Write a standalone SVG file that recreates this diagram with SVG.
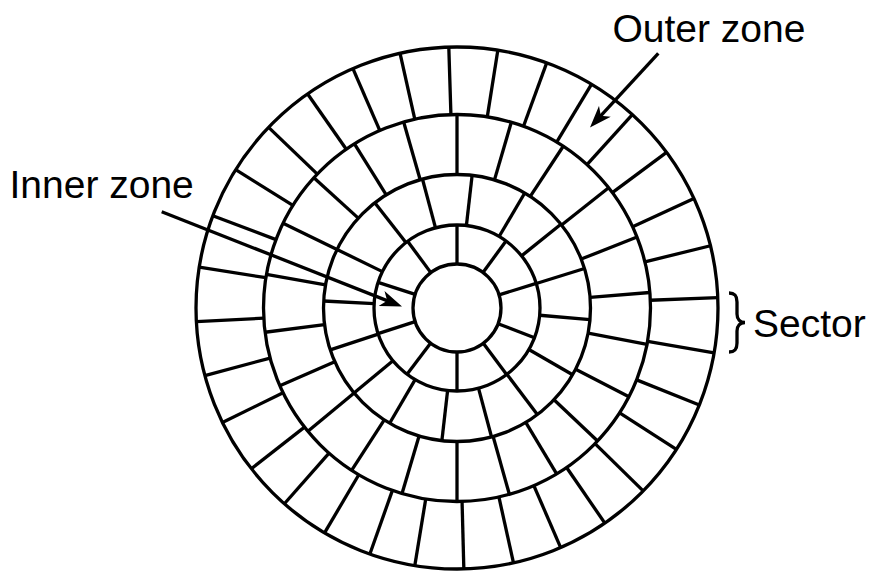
<svg xmlns="http://www.w3.org/2000/svg" width="871" height="573" viewBox="0 0 871 573">
<style>
.ln{stroke:#000;stroke-width:3.3;fill:none}
.t{font-family:"Liberation Sans",Arial,Helvetica,sans-serif;font-size:39px;fill:#000}
</style>
<defs>
<marker id="ah" markerUnits="userSpaceOnUse" viewBox="0 0 22 16" markerWidth="22" markerHeight="16" refX="14" refY="8" orient="auto">
<path d="M0,0 L22,8 L0,16 L6,8 Z" fill="#000"/>
</marker>
</defs>
<rect width="871" height="573" fill="#fff"/>
<g id="disk" class="ln" transform="translate(457,308)">
<circle r="261"/>
<circle r="193.5"/>
<circle r="133.5"/>
<circle r="83"/>
<circle r="44"/>
<g id="ring4-spokes">
<line x1="193.5" x2="261" transform="rotate(-2.3)"/>
<line x1="193.5" x2="261" transform="rotate(-13.8)"/>
<line x1="193.5" x2="261" transform="rotate(-24.8)"/>
<line x1="193.5" x2="261" transform="rotate(-36.6)"/>
<line x1="193.5" x2="261" transform="rotate(-47.8)"/>
<line x1="193.5" x2="261" transform="rotate(-59)"/>
<line x1="193.5" x2="261" transform="rotate(-69.9)"/>
<line x1="193.5" x2="261" transform="rotate(-81)"/>
<line x1="193.5" x2="261" transform="rotate(-91.8)"/>
<line x1="193.5" x2="261" transform="rotate(-102.6)"/>
<line x1="193.5" x2="261" transform="rotate(-113.5)"/>
<line x1="193.5" x2="261" transform="rotate(-124.9)"/>
<line x1="193.5" x2="261" transform="rotate(-136.2)"/>
<line x1="193.5" x2="261" transform="rotate(-148)"/>
<line x1="193.5" x2="261" transform="rotate(-159.3)"/>
<line x1="193.5" x2="261" transform="rotate(-171)"/>
<line x1="193.5" x2="261" transform="rotate(-183)"/>
<line x1="193.5" x2="261" transform="rotate(-195)"/>
<line x1="193.5" x2="261" transform="rotate(-206)"/>
<line x1="193.5" x2="261" transform="rotate(-218)"/>
<line x1="193.5" x2="261" transform="rotate(-228.6)"/>
<line x1="193.5" x2="261" transform="rotate(-239.5)"/>
<line x1="193.5" x2="261" transform="rotate(-250.5)"/>
<line x1="193.5" x2="261" transform="rotate(-260.7)"/>
<line x1="193.5" x2="261" transform="rotate(-271.5)"/>
<line x1="193.5" x2="261" transform="rotate(-282.5)"/>
<line x1="193.5" x2="261" transform="rotate(-293.4)"/>
<line x1="193.5" x2="261" transform="rotate(-304.5)"/>
<line x1="193.5" x2="261" transform="rotate(-315.5)"/>
<line x1="193.5" x2="261" transform="rotate(-327.2)"/>
<line x1="193.5" x2="261" transform="rotate(-338.2)"/>
<line x1="193.5" x2="261" transform="rotate(-350.1)"/>
</g>
<g id="ring3-spokes">
<line x1="133.5" x2="193.5" transform="rotate(-4.6)"/>
<line x1="133.5" x2="193.5" transform="rotate(-21.5)"/>
<line x1="133.5" x2="193.5" transform="rotate(-38.4)"/>
<line x1="133.5" x2="193.5" transform="rotate(-56.7)"/>
<line x1="133.5" x2="193.5" transform="rotate(-73.7)"/>
<line x1="133.5" x2="193.5" transform="rotate(-90)"/>
<line x1="133.5" x2="193.5" transform="rotate(-106)"/>
<line x1="133.5" x2="193.5" transform="rotate(-122)"/>
<line x1="133.5" x2="193.5" transform="rotate(-137.7)"/>
<line x1="133.5" x2="193.5" transform="rotate(-154)"/>
<line x1="133.5" x2="193.5" transform="rotate(-170)"/>
<line x1="133.5" x2="193.5" transform="rotate(-187.2)"/>
<line x1="133.5" x2="193.5" transform="rotate(-203.7)"/>
<line x1="133.5" x2="193.5" transform="rotate(-219.6)"/>
<line x1="133.5" x2="193.5" transform="rotate(-237)"/>
<line x1="133.5" x2="193.5" transform="rotate(-253.5)"/>
<line x1="133.5" x2="193.5" transform="rotate(-270)"/>
<line x1="133.5" x2="193.5" transform="rotate(-285.7)"/>
<line x1="133.5" x2="193.5" transform="rotate(-301)"/>
<line x1="133.5" x2="193.5" transform="rotate(-316.6)"/>
<line x1="133.5" x2="193.5" transform="rotate(-332.7)"/>
<line x1="133.5" x2="193.5" transform="rotate(-349.2)"/>
</g>
<g id="ring2-spokes">
<line x1="83" x2="133.5" transform="rotate(-17.2)"/>
<line x1="83" x2="133.5" transform="rotate(-38.9)"/>
<line x1="83" x2="133.5" transform="rotate(-59.5)"/>
<line x1="83" x2="133.5" transform="rotate(-83.5)"/>
<line x1="83" x2="133.5" transform="rotate(-105)"/>
<line x1="83" x2="133.5" transform="rotate(-128)"/>
<line x1="83" x2="133.5" transform="rotate(-154)"/>
<line x1="83" x2="133.5" transform="rotate(-177)"/>
<line x1="83" x2="133.5" transform="rotate(-198.3)"/>
<line x1="83" x2="133.5" transform="rotate(-219.5)"/>
<line x1="83" x2="133.5" transform="rotate(-239.7)"/>
<line x1="83" x2="133.5" transform="rotate(-263.5)"/>
<line x1="83" x2="133.5" transform="rotate(-285)"/>
<line x1="83" x2="133.5" transform="rotate(-307)"/>
<line x1="83" x2="133.5" transform="rotate(-330)"/>
<line x1="83" x2="133.5" transform="rotate(-355)"/>
</g>
<g id="ring1-spokes">
<line x1="44" x2="83" transform="rotate(-17.3)"/>
<line x1="44" x2="83" transform="rotate(-53.8)"/>
<line x1="44" x2="83" transform="rotate(-90)"/>
<line x1="44" x2="83" transform="rotate(-126.5)"/>
<line x1="44" x2="83" transform="rotate(-162)"/>
<line x1="44" x2="83" transform="rotate(-198)"/>
<line x1="44" x2="83" transform="rotate(-233)"/>
<line x1="44" x2="83" transform="rotate(-270)"/>
<line x1="44" x2="83" transform="rotate(-306.7)"/>
<line x1="44" x2="83" transform="rotate(-339)"/>
</g>
</g>
<g id="label-outer-zone"><text class="t" x="612.5" y="41.5">Outer zone</text></g>
<g id="label-inner-zone"><text class="t" x="9.5" y="198.3">Inner zone</text></g>
<g id="label-sector"><text class="t" x="753" y="336.7">Sector</text></g>
<g id="connectors" class="ln">
<line x1="658.3" y1="53.3" x2="595.4" y2="121.6" marker-end="url(#ah)"/>
<line x1="161.7" y1="211.7" x2="394.6" y2="303.6" marker-end="url(#ah)"/>
<path d="M729,293 C735,293 737,296 737,302 L737,314 C737,319 740,322.5 745,322.5 C740,322.5 737,326 737,331 L737,343 C737,349 735,352 729,352"/>
</g>
</svg>
